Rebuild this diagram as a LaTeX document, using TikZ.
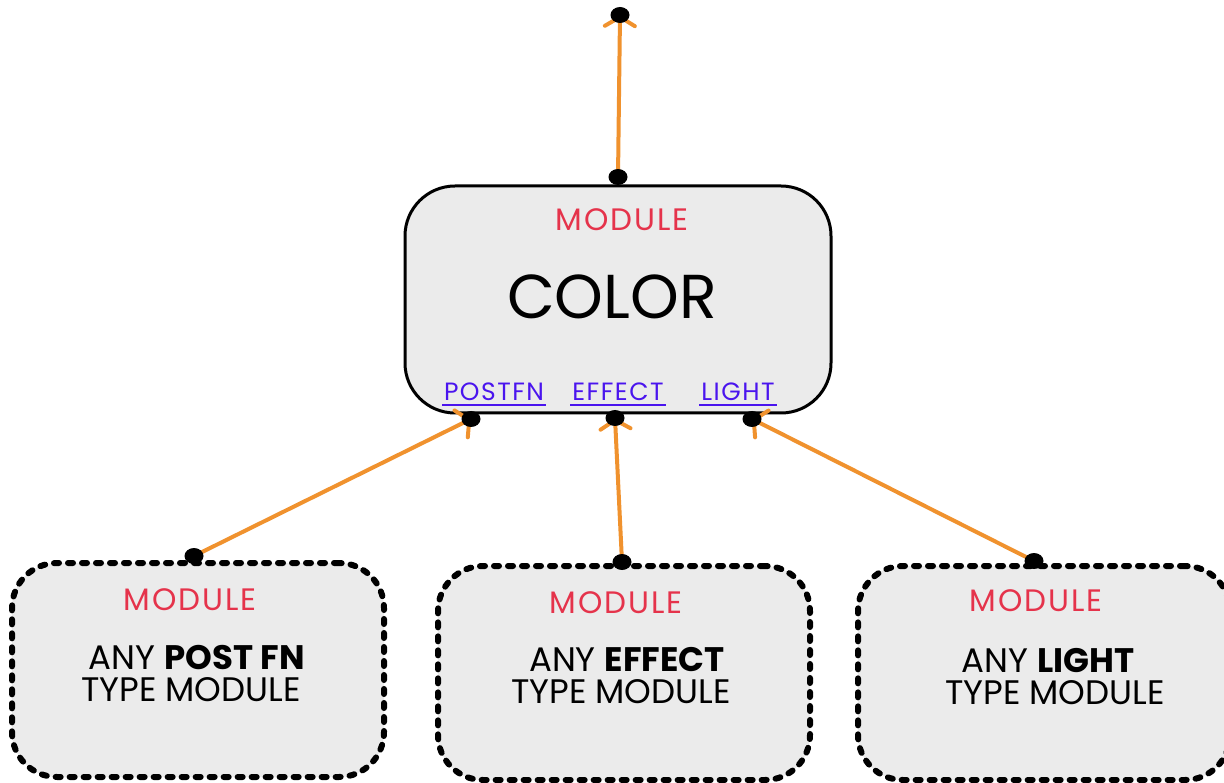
\documentclass[tikz,border=0pt]{standalone}
\usepackage{fontspec}
\setmainfont{Poppins}
\newfontfamily\modfont[LetterSpace=6]{Poppins}
\usetikzlibrary{arrows.meta,shapes.geometric}
\definecolor{wire}{HTML}{F0922E}
\definecolor{modred}{HTML}{E5334B}
\definecolor{portblue}{HTML}{4A14EE}
\definecolor{boxgray}{HTML}{EBEBEB}
\tikzset{
  mainbox/.style={draw=black, line width=3pt, fill=boxgray, rounded corners=50pt,
    minimum width=426pt, minimum height=227pt, inner sep=0pt},
  subbox/.style={draw=black, line width=6pt, fill=boxgray, rounded corners=45pt,
    dash pattern=on 5pt off 9pt, line cap=round,
    minimum width=372pt, minimum height=214pt, inner sep=0pt},
  dot/.style={ellipse, fill=black, inner sep=0pt, minimum width=19pt, minimum height=16pt},
  wire/.style={draw=wire, line width=4pt, line cap=round,
    -{Straight Barb[length=9pt,width=30pt,round]}},
  modlabel/.style={text=modred, font=\modfont\fontsize{31}{34}\selectfont, inner sep=0pt},
  portlabel/.style={text=portblue, font=\modfont\fontsize{25}{28}\selectfont, inner sep=0pt},
  bodytext/.style={font=\fontsize{34}{38}\selectfont, inner sep=0pt},
  uline/.style={draw=portblue, line width=2pt}
}
\begin{document}
\begin{tikzpicture}[x=1pt,y=-1pt]
\useasboundingbox (0,0) rectangle (1224,783);

% the COLOR module and its three input ports
\node[mainbox] (color) at (618,299.5) {};
\node[modlabel] (colormod) at (622,220) {MODULE};
\node[font=\fontsize{62}{70}\selectfont, inner sep=0pt] (colorname) at (612,297) {COLOR};
\node[portlabel] (pfport) at (494,392) {POSTFN};
\node[portlabel] (efport) at (618,392) {EFFECT};
\node[portlabel] (ltport) at (738,392) {LIGHT};
\draw[uline] ([xshift=-2pt,yshift=-4pt]pfport.south west) -- ([xshift=2pt,yshift=-4pt]pfport.south east);
\draw[uline] ([xshift=-2pt,yshift=-4pt]efport.south west) -- ([xshift=2pt,yshift=-4pt]efport.south east);
\draw[uline] ([xshift=-2pt,yshift=-4pt]ltport.south west) -- ([xshift=2pt,yshift=-4pt]ltport.south east);

% modules plugged into the ports
\node[subbox] (postbox) at (198,670) {};
\node[subbox] (effbox) at (624,673) {};
\node[subbox] (lightbox) at (1044,673) {};

\node[modlabel] (postmod) at (190,600) {MODULE};
\node[bodytext] (post1) at (197,658) {ANY \textbf{POST FN}};
\node[bodytext] (post2) at (191,690) {TYPE MODULE};

\node[modlabel] (effmod) at (616,603) {MODULE};
\node[bodytext] (eff1) at (627,660) {ANY \textbf{EFFECT}};
\node[bodytext] (eff2) at (621,692) {TYPE MODULE};

\node[modlabel] (lightmod) at (1036,601) {MODULE};
\node[bodytext] (light1) at (1048,661) {ANY \textbf{LIGHT}};
\node[bodytext] (light2) at (1055,693) {TYPE MODULE};

% connection points
\coordinate (outpt) at (618,177);
\coordinate (outend) at (620,15);
\coordinate (pfin) at (471,419);
\coordinate (efin) at (615,418);
\coordinate (ltin) at (752,419);
\coordinate (postout) at (194,556);
\coordinate (effout) at (622,562);
\coordinate (lightout) at (1034,561);

% wires
\draw[wire] (outpt) -- (outend);
\draw[wire] (postout) -- (pfin);
\draw[wire] (effout) -- (efin);
\draw[wire] (lightout) -- (ltin);

% pins
\foreach \p in {outpt,outend,pfin,efin,ltin,postout,effout,lightout}
  \node[dot] at (\p) {};
\end{tikzpicture}
\end{document}
